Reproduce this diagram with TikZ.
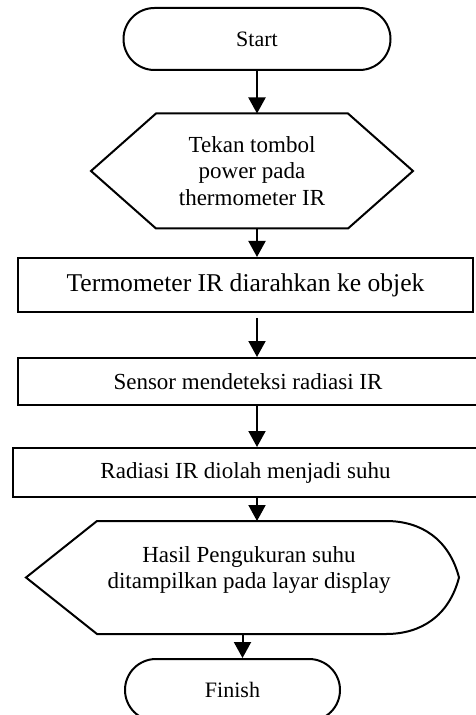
\documentclass[tikz,border=0pt]{standalone}
\usepackage{fontspec}
\setmainfont{Liberation Serif}
\usetikzlibrary{arrows.meta,calc}

\begin{document}
\begin{tikzpicture}[x=0.5pt, y=-0.5pt, line width=1pt,
    terminal/.style={draw, rounded corners=15.5pt, minimum height=31pt, font=\fontsize{11}{13}\selectfont},
    process/.style={draw, inner sep=0pt, font=\fontsize{11.5}{13.3}\selectfont},
    shapetext/.style={inner sep=0pt, align=center, font=\fontsize{11.5}{13.3}\selectfont},
    arr/.style={-{Triangle[width=8.5pt,length=8pt]}}]
\useasboundingbox (0,0) rectangle (475,715);

% Terminals
\node[terminal, minimum width=133.5pt] (start) at (257,39) {Start};
\node[terminal, minimum width=107.5pt] (finish) at (232.5,690) {Finish};

% Preparation (hexagon)
\node[shapetext, minimum width=160pt, minimum height=56.5pt] (prep) at (252,171) {Tekan tombol\\power pada\\thermometer IR};
\draw (prep.west) -- ([xshift=32.5pt]prep.north west) -- ([xshift=-32.5pt]prep.north east) -- (prep.east)
    -- ([xshift=-32.5pt]prep.south east) -- ([xshift=32.5pt]prep.south west) -- cycle;

% Process boxes
\node[process, minimum width=227.5pt, minimum height=27pt, font=\fontsize{12.8}{15}\selectfont] (box1) at (245.5,285) {Termometer IR diarahkan ke objek};
\node[process, minimum width=230pt, minimum height=23.5pt] (box2) at (248,381.5) {Sensor mendeteksi radiasi IR};
\node[process, minimum width=232.5pt, minimum height=24.5pt] (box3) at (245.5,472.5) {Radiasi IR diolah menjadi suhu};

% Display
\node[inner sep=0pt, minimum width=215.5pt, minimum height=55.5pt] (display) at (242.5,577.5) {};
\node[shapetext] (displaytext) at (249,570) {Hasil Pengukuran suhu\\ditampilkan pada layar display};
\draw (display.west) -- ([xshift=35.5pt]display.north west) -- ([xshift=-36.5pt]display.north east)
    .. controls ([xshift=-19pt]display.north east) and ([shift={(-5pt,-9pt)}]display.north east) .. (display.east)
    .. controls ([shift={(-5pt,9pt)}]display.south east) and ([xshift=-19pt]display.south east) .. ([xshift=-36.5pt]display.south east)
    -- ([xshift=35.5pt]display.south west) -- cycle;

% Connectors
\draw[arr] (start.south) -- (start.south |- prep.north);
\foreach \a/\b in {prep/box1, box2/box3, box3/display} {
    \draw[arr] (start.south |- \a.south) -- (start.south |- \b.north);
}
\draw[arr, shorten <=2.5pt] (start.south |- box1.south) -- (start.south |- box2.north);
\draw[arr] (display.south) -- (display.south |- finish.north);
\end{tikzpicture}
\end{document}
